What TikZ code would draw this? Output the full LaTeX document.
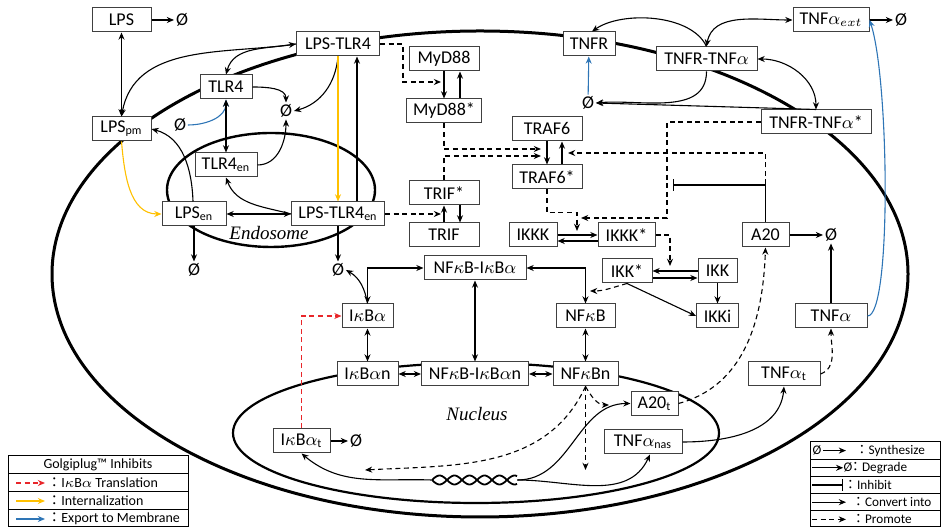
\documentclass[tikz,border=0pt]{standalone}
\usepackage{fontspec}
\setmainfont{Carlito}
\newfontfamily\cjkfont{Noto Sans CJK JP}
\newfontfamily\labelfont{Liberation Serif}
\usetikzlibrary{arrows.meta,calc}
\definecolor{inhred}{HTML}{E8262A}
\definecolor{inhyellow}{HTML}{FFC000}
\definecolor{inhblue}{HTML}{2E75B6}
\newcommand{\fwcolon}{{\cjkfont ：}}
\begin{document}
\begin{tikzpicture}[x=0.5pt,y=0.5pt,
  font=\fontsize{9pt}{10pt}\selectfont,
  >={Stealth[length=3.6pt,width=3pt]},
  box/.style={draw=black!75,fill=white,line width=0.5pt,minimum height=12pt,inner xsep=1.5pt,inner ysep=0pt},
  zero/.style={inner sep=0.8pt},
  link/.style={line width=0.55pt},
  promote/.style={link,dash pattern=on 2.5pt off 1.8pt},
  membrane/.style={line width=1.5pt},
  legendA/.style={font=\fontsize{7pt}{8pt}\selectfont,inner sep=0pt},
  legendB/.style={font=\fontsize{6.6pt}{7pt}\selectfont,inner sep=0pt},
  compartment/.style={font=\fontsize{9.5pt}{10pt}\labelfont\itshape}]
\useasboundingbox (0,0) rectangle (942,528);

\draw[membrane] (480,254) ellipse [x radius=428,y radius=243];
\draw[line width=1.2pt] (271,338) ellipse [x radius=104,y radius=57];
\draw[line width=1.1pt] (476,95) ellipse [x radius=243,y radius=70];
\node[compartment] (endo) at (269,295) {Endosome};
\node[compartment] (nuc) at (477,114) {Nucleus};

\node[box,minimum width=29.5pt] (LPS) at (121.5,508) {LPS};
\node[zero] (z1) at (182,508) {Ø};
\node[box,minimum width=41.5pt] (LPSTLR4) at (338,484) {LPS-TLR4};
\node[box,minimum width=26pt] (TLR4) at (226,441) {TLR4};
\node[box,minimum width=29.5pt] (LPSpm) at (121.5,399) {LPS\textsubscript{pm}};
\node[zero] (z2) at (180,403) {Ø};
\node[zero] (z3) at (286,417) {Ø};
\node[box,minimum width=31pt] (TLR4en) at (226,363) {TLR4\textsubscript{en}};
\node[box,minimum width=32pt] (LPSen) at (194,314) {LPS\textsubscript{en}};
\node[box,minimum width=46.5pt] (LPSTLR4en) at (338,314) {LPS-TLR4\textsubscript{en}};
\node[zero] (z4) at (194,258) {Ø};
\node[zero] (z5) at (338,258) {Ø};
\node[box,minimum width=35pt] (MyD88) at (444,469) {MyD88};
\node[box,minimum width=37.5pt] (MyD88s) at (444,417) {MyD88*};
\node[box,minimum width=26pt] (TNFR) at (589,484) {TNFR};
\node[zero] (z6) at (588,425) {Ø};
\node[box,minimum width=35pt] (TRAF6) at (547,399) {TRAF6};
\node[box,minimum width=35pt] (TRAF6s) at (547,351) {TRAF6*};
\node[box,minimum width=35pt] (TRIFs) at (444,335) {TRIF*};
\node[box,minimum width=35pt] (TRIF) at (444,293) {TRIF};
\node[box,minimum width=24pt] (IKKK) at (533,293) {IKKK};
\node[box,minimum width=28.5pt] (IKKKs) at (626.5,293) {IKKK*};
\node[box,minimum width=51pt] (NFkBIkBa) at (475,260) {NF$\kappa$B-I$\kappa$B$\alpha$};
\node[box,minimum width=25.5pt] (IkBa) at (367.5,212) {I$\kappa$B$\alpha$};
\node[box,minimum width=29.5pt] (NFkB) at (585.5,212) {NF$\kappa$B};
\node[box,minimum width=25pt] (IKKs) at (627,257) {IKK*};
\node[box,minimum width=19.5pt] (IKK) at (717.5,257) {IKK};
\node[box,minimum width=21pt] (IKKi) at (717.5,212) {IKKi};
\node[box,minimum width=23.5pt] (A20) at (765.5,293) {A20};
\node[zero] (z7) at (831,293) {Ø};
\node[box,minimum width=36pt] (TNFa) at (831,212) {TNF$\alpha$};
\node[box,minimum width=38pt] (TNFaext) at (831,508) {TNF$\alpha_{ext}$};
\node[zero] (z8) at (901,508) {Ø};
\node[box,minimum width=50.5pt] (TNFRTNFa) at (706.5,469) {TNFR-TNF$\alpha$};
\node[box,minimum width=55pt] (TNFRTNFas) at (816,406) {TNFR-TNF$\alpha$*};
\node[box,minimum width=30.5pt] (IkBan) at (367.5,154) {I$\kappa$B$\alpha$n};
\node[box,minimum width=53.5pt] (NFkBIkBan) at (475,154) {NF$\kappa$B-I$\kappa$B$\alpha$n};
\node[box,minimum width=32.5pt] (NFkBn) at (585.5,154) {NF$\kappa$Bn};
\node[box,minimum width=23.5pt] (A20t) at (654.5,124.5) {A20\textsubscript{t}};
\node[box,minimum width=36pt] (TNFat) at (784,154) {TNF$\alpha$\textsubscript{t}};
\node[box,minimum width=39pt] (TNFanas) at (643,86) {TNF$\alpha$\textsubscript{nas}};
\node[box,minimum width=28.5pt] (IkBat) at (301.5,87) {I$\kappa$B$\alpha$\textsubscript{t}};
\node[zero] (z9) at (356,87) {Ø};
\node[minimum width=42.5pt,minimum height=6pt,inner sep=0pt] (DNA) at (474.5,48) {};
\draw[line width=0.9pt] plot[domain=0:85,samples=60,smooth] ({432+\x},{48+4.5*sin(12*\x)});
\draw[line width=0.9pt] plot[domain=0:85,samples=60,smooth] ({432+\x},{48-4.5*sin(12*\x)});

\coordinate (pMyD88) at (441,446);
\coordinate (pTRIF) at (441,314);
\coordinate (pTRAF6a) at (541,379);
\coordinate (pTRAF6c) at (541,372);
\coordinate (pTRAF6b) at (568,375);
\coordinate (cTNFR) at (667,310);
\coordinate (pIKKKa) at (581,310);
\coordinate (pIKKKb) at (577,297);
\coordinate (pIKK) at (670,262);
\coordinate (pNFkB) at (590,237);
\coordinate (inhIKKK) at (673,343);
\coordinate (pA20t) at (609,123);
\coordinate (pTNFanas) at (585.5,58);
\coordinate (pIkBat) at (365,58);

\draw[link,->] (LPS) -- (z1);
\draw[link,<->] (LPS) -- (LPSpm);
\draw[link,<->] (LPSpm.north) to[out=80,in=188] (LPSTLR4.west);
\draw[link,->] (LPSTLR4.west) to[out=190,in=75] (TLR4.north);
\draw[link,->] (TLR4.east) to[out=0,in=90] (z3.north);
\draw[link,->,inhblue] (z2.east) to[out=0,in=-90] (TLR4.south);
\draw[link,<->] (TLR4) -- (TLR4en);
\draw[link,->] (TLR4en.east) to[out=0,in=-90] (z3.south);
\draw[link,->] (LPSTLR4.south) to[out=-95,in=15] (z3.east);
\draw[link,->,inhyellow] (LPSTLR4.south) -- (LPSTLR4en.north);
\draw[link,->] ($(LPSTLR4en.north)+(19,0)$) -- ($(LPSTLR4.south)+(19,0)$);
\draw[link,->,inhyellow] (LPSpm.south) to[out=-85,in=180] (LPSen.west);
\draw[link,->] ($(LPSen.north)+(-1,0)$) to[out=92,in=-15] (LPSpm.east);
\draw[link,<->] (LPSen) -- (LPSTLR4en);
\draw[link,->] (LPSTLR4en.west) to[out=165,in=-70] (TLR4en.south);
\draw[link,->] (LPSen) -- (z4);
\draw[link,->] (LPSTLR4en) -- (z5);
\draw[link,->] (IkBa.north) to[out=100,in=-30] (z5.east);
\draw[link,<->] (IkBa.north) |- (NFkBIkBa.west);
\draw[link,<->] (NFkBIkBa.east) -| (NFkB.north);
\draw[promote,->] (IKKs.south) to[out=-165,in=0] (pNFkB);
\draw[link,<->] (NFkBIkBan) -- (NFkBIkBa);
\draw[link,<->] (IkBa) -- (IkBan);
\draw[link,<->] (NFkB) -- (NFkBn);
\draw[link,<->] (IkBan) -- (NFkBIkBan);
\draw[link,<->] (NFkBIkBan) -- (NFkBn);

\draw[promote,->] (NFkBn.south) to[out=-60,in=180] (pA20t);
\draw[promote,->] (NFkBn.south) -- (pTNFanas);
\draw[promote,->] (NFkBn.south) to[out=-115,in=3] (pIkBat);
\draw[link,->] (DNA.west) to[out=178,in=-40] (IkBat.south);
\draw[link,->] (DNA.east) to[out=0,in=180] (A20t.west);
\draw[link,->] (DNA.east) to[out=0,in=-115] ($(TNFanas.south)+(7,0)$);
\draw[link,->] (TNFanas.east) to[out=0,in=-95] (TNFat.south);
\draw[promote,->] (TNFat.east) to[out=20,in=-90] (TNFa.south);
\draw[promote,->] (A20t.east) to[out=15,in=-92] (A20.south);
\draw[link,->] (IkBat) -- (z9);
\draw[promote,->,inhred] (IkBat.north) |- (IkBa.west);

\draw[link,->] (TNFa) -- (z7);
\draw[link,->] (A20) -- (z7);
\draw[link,-{Bar[width=6pt]}] (A20.north) |- (inhIKKK);
\draw[promote,->] ($(A20.north)+(0,38)$) |- (pTRAF6b);
\draw[promote,->] (TNFRTNFas.west) -| (cTNFR) -- (pIKKKa);
\draw[promote,->] (TRAF6s.south) -- ++(0,-23) -| (pIKKKb);
\draw[promote,->] (MyD88s.south) |- (pTRAF6a);
\draw[promote,->] (TRIFs.north) |- (pTRAF6c);
\draw[link,->] (TRAF6) -- (TRAF6s);
\draw[link,->] ($(TRAF6s.north)+(15,0)$) -- ($(TRAF6.south)+(15,0)$);
\draw[link,->] (MyD88) -- (MyD88s);
\draw[link,->] ($(MyD88s.north)+(16,0)$) -- ($(MyD88.south)+(16,0)$);
\draw[link,->] (TRIF) -- (TRIFs);
\draw[link,->] ($(TRIFs.south)+(16,0)$) -- ($(TRIF.north)+(16,0)$);
\draw[promote,->] (LPSTLR4.east) -| ++(23,-38) -- (pMyD88);
\draw[promote,->] (LPSTLR4en.east) -- (pTRIF);
\draw[link,->] (IKKK.east) -- (IKKKs.west);
\draw[link,->] ($(IKKKs.west)+(0,-6)$) -- ($(IKKK.east)+(0,-6)$);
\draw[promote,->] (IKKKs.east) -| (pIKK);
\draw[link,->] (IKK.west) -- (IKKs.east);
\draw[link,->] ($(IKKs.east)+(0,-7)$) -- ($(IKK.west)+(0,-7)$);
\draw[link,->] (IKK) -- (IKKi);
\draw[link,->] (IKKs.south) -- (IKKi.west);

\draw[link,->,inhblue] (z6) -- (TNFR);
\draw[link,->] (TNFRTNFa.south) to[out=-90,in=5] (z6.east);
\draw[link,->] (TNFRTNFas.north) -- (z6.east);
\draw[link,<->] (TNFRTNFa.east) to[out=0,in=90] (TNFRTNFas.north);
\draw[link,<->] (TNFaext.west) to[out=180,in=80] (TNFRTNFa.north);
\draw[link,->] (TNFRTNFa.north) to[out=115,in=35,looseness=0.8] ($(TNFR.north)+(3,0)$);
\draw[link,->] (TNFaext) -- (z8);
\draw[link,->,inhblue] (TNFa.east) .. controls (892,212) and (889,450) .. (TNFaext.east);

\draw[line width=0.5pt] (8,72) rectangle (188,1);
\draw[line width=0.5pt] (8,54) -- (188,54) (8,36) -- (188,36) (8,18) -- (188,18);
\node[legendA] (lgHead) at (98,63) {Golgiplug™ Inhibits};
\coordinate (lgR1) at (16,45); \coordinate (lgR2) at (45,45);
\coordinate (lgY1) at (16,27); \coordinate (lgY2) at (45,27);
\coordinate (lgB1) at (16,9); \coordinate (lgB2) at (45,9);
\draw[promote,->,inhred] (lgR1) -- (lgR2);
\draw[link,->,inhyellow] (lgY1) -- (lgY2);
\draw[link,->,inhblue] (lgB1) -- (lgB2);
\node[legendA,anchor=west] (lgRt) at (47,45) {\fwcolon I$\kappa$B$\alpha$ Translation};
\node[legendA,anchor=west] (lgYt) at (47,27) {\fwcolon Internalization};
\node[legendA,anchor=west] (lgBt) at (47,9) {\fwcolon Export to Membrane};

\draw[line width=0.5pt] (810,86) rectangle (940.5,1);
\draw[line width=0.5pt] (810,68.8) -- (940.5,68.8) (810,51.6) -- (940.5,51.6) (810,34.4) -- (940.5,34.4) (810,17.2) -- (940.5,17.2);
\node[legendB] (lgZ1) at (817,77.4) {Ø};
\coordinate (lgS1) at (823,77.4); \coordinate (lgS2) at (846,77.4);
\draw[link,->] (lgS1) -- (lgS2);
\node[legendB,anchor=west] (lgSt) at (855,77.4) {\fwcolon Synthesize};
\coordinate (lgD1) at (812,60.2);
\node[legendB] (lgZ2) at (848,60.2) {Ø};
\draw[link,->] (lgD1) -- (lgZ2.west);
\node[legendB,anchor=west] (lgDt) at (848.5,60.2) {\fwcolon Degrade};
\coordinate (lgI1) at (812,43); \coordinate (lgI2) at (843,43);
\draw[link,-{Bar[width=6pt]}] (lgI1) -- (lgI2);
\node[legendB,anchor=west] (lgIt) at (843.5,43) {\fwcolon Inhibit};
\coordinate (lgC1) at (812,25.8); \coordinate (lgC2) at (846,25.8);
\draw[link,->] (lgC1) -- (lgC2);
\node[legendB,anchor=west] (lgCt) at (851.5,25.8) {\fwcolon Convert into};
\coordinate (lgP1) at (812,8.6); \coordinate (lgP2) at (846,8.6);
\draw[promote,->] (lgP1) -- (lgP2);
\node[legendB,anchor=west] (lgPt) at (851.5,8.6) {\fwcolon Promote};
\end{tikzpicture}
\end{document}
